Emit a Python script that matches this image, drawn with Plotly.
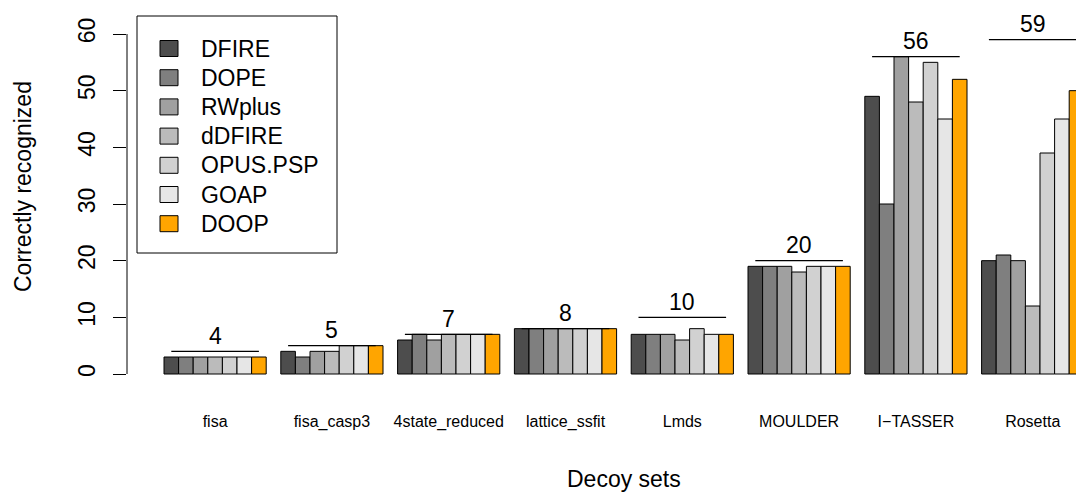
import plotly.graph_objects as go

# Decoy sets and the number of natives correctly recognized by each potential
decoy_sets = ["fisa", "fisa_casp3", "4state_reduced", "lattice_ssfit",
              "Lmds", "MOULDER", "I\u2212TASSER", "Rosetta"]
dfire = [3, 4, 6, 8, 7, 19, 49, 20]
dope = [3, 3, 7, 8, 7, 19, 30, 21]
rwplus = [3, 4, 6, 8, 7, 19, 56, 20]
ddfire = [3, 4, 7, 8, 6, 18, 48, 12]
opus_psp = [3, 5, 7, 8, 8, 19, 55, 39]
goap = [3, 5, 7, 8, 7, 19, 45, 45]
doop = [3, 5, 7, 8, 7, 19, 52, 50]
# number of proteins in each decoy set (best achievable)
set_sizes = [4, 5, 7, 8, 10, 20, 56, 59]

series_names = ["DFIRE", "DOPE", "RWplus", "dDFIRE", "OPUS.PSP", "GOAP", "DOOP"]
series_values = [dfire, dope, rwplus, ddfire, opus_psp, goap, doop]
series_colors = ["#4D4D4D", "#7F7F7F", "#A0A0A0", "#BBBBBB", "#D1D1D1", "#E6E6E6", "#FFA500"]

FONT = "Liberation Sans, Arial, Helvetica, sans-serif"
W, H = 1076, 493
ML, MR, MT, MB = 127, 0, 0, 105
PW, PH = W - ML - MR, H - MT - MB

n_series = len(series_names)
bar_w = 1.0 / (n_series + 1)
group_pos = list(range(len(decoy_sets)))


def px_x(px):
    return (px - ML) / PW


def px_y(py):
    return (H - MB - py) / PH


fig = go.Figure()

for j, (name, vals, col) in enumerate(zip(series_names, series_values, series_colors)):
    offset = (j - (n_series - 1) / 2) * bar_w
    fig.add_trace(go.Bar(
        x=[g + offset for g in group_pos],
        y=vals,
        width=bar_w,
        name=name,
        marker=dict(color=col, line=dict(color="black", width=1)),
        showlegend=False,
    ))

# horizontal line marking the set size over each group, with its value
half_span = (n_series - 1) / 2 * bar_w
for g, size in zip(group_pos, set_sizes):
    fig.add_trace(go.Scatter(
        x=[g - half_span, g + half_span], y=[size, size],
        mode="lines", line=dict(color="black", width=1.3),
        showlegend=False, hoverinfo="skip",
    ))
    fig.add_annotation(
        x=g, y=size, xref="x", yref="y", text=str(size), showarrow=False,
        yanchor="middle", yshift=15.5, font=dict(family=FONT, size=23, color="black"),
    )

# y axis line spanning only the tick range
fig.add_shape(type="line", xref="paper", yref="y", x0=0, x1=0, y0=0, y1=60,
              line=dict(color="black", width=1))

# legend box
box_l, box_r, box_t, box_b = 137, 337, 16, 253
fig.add_shape(type="rect", xref="paper", yref="paper",
              x0=px_x(box_l), x1=px_x(box_r), y0=px_y(box_b), y1=px_y(box_t),
              line=dict(color="black", width=1))
row0, row_step = 48.5, 29.2
for j, (name, col) in enumerate(zip(series_names, series_colors)):
    cy = row0 + j * row_step
    fig.add_shape(type="rect", xref="paper", yref="paper",
                  x0=px_x(160), x1=px_x(178), y0=px_y(cy + 8), y1=px_y(cy - 8),
                  fillcolor=col, line=dict(color="black", width=1))
    fig.add_annotation(x=px_x(199), y=px_y(cy), xref="paper", yref="paper",
                       text=name, showarrow=False, xanchor="left", yanchor="middle",
                       font=dict(family=FONT, size=23, color="black"))

# axis titles
fig.add_annotation(x=px_x(624), y=px_y(479), xref="paper", yref="paper",
                   text="Decoy sets", showarrow=False, xanchor="center", yanchor="middle",
                   font=dict(family=FONT, size=23, color="black"))
fig.add_annotation(x=px_x(23), y=px_y(187), xref="paper", yref="paper",
                   text="Correctly recognized", textangle=-90, showarrow=False,
                   xanchor="center", yanchor="middle",
                   font=dict(family=FONT, size=23, color="black"))

unit = 14.6  # pixels per bar width
origin_px = 164 + 3.5 * unit  # pixel centre of first group
x_left = (ML - origin_px) / (unit * (n_series + 1))
x_right = (W - MR - origin_px) / (unit * (n_series + 1))

fig.update_layout(
    width=W, height=H,
    margin=dict(l=ML, r=MR, t=MT, b=MB, pad=0),
    paper_bgcolor="white", plot_bgcolor="white",
    barmode="overlay",
    font=dict(family=FONT, color="black"),
    xaxis=dict(
        range=[x_left, x_right],
        tickmode="array", tickvals=group_pos, ticktext=decoy_sets,
        showline=False, showgrid=False, zeroline=False,
        ticks="outside", ticklen=19, tickcolor="rgba(0,0,0,0)",
        tickfont=dict(family=FONT, size=16, color="black"),
    ),
    yaxis=dict(
        range=[-(H - MB - 374) / 5.667, 60 + 34 / 5.667],
        tickmode="array", tickvals=[0, 10, 20, 30, 40, 50, 60],
        showline=False, showgrid=False, zeroline=False,
        ticks="outside", ticklen=13, tickwidth=1, tickcolor="black",
        tickangle=-90, ticklabelstandoff=9,
        tickfont=dict(family=FONT, size=23, color="black"),
    ),
    showlegend=False,
)

fig.write_html("out.html")
